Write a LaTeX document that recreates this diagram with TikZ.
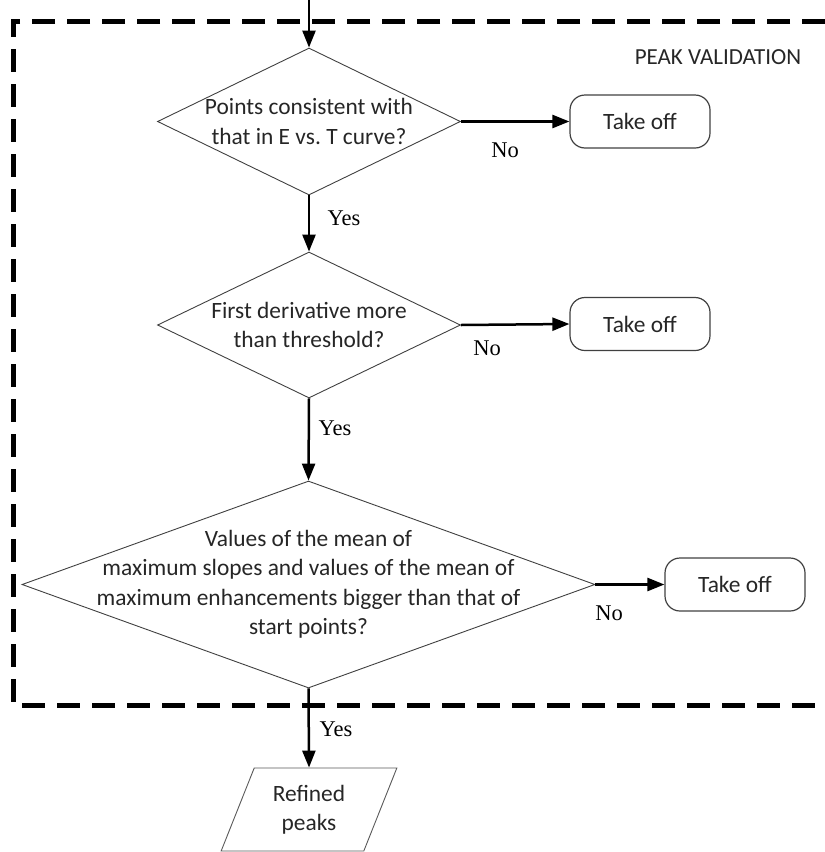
\documentclass[tikz,border=0pt]{standalone}
\usepackage{fontspec}
\setmainfont{Carlito}
\newfontfamily\labelserif{Liberation Serif}
\usetikzlibrary{arrows.meta,shapes.geometric}
\begin{document}
\begin{tikzpicture}[x=1pt,y=-1pt,
  decision/.style={diamond, draw=black!75, line width=0.9pt, inner sep=0pt},
  qtext/.style={align=center, inner sep=0pt, font=\fontsize{23.4}{29.5}\selectfont, text=black!85},
  endbox/.style={rectangle, rounded corners=15pt, draw=black!75, line width=1.2pt,
    minimum width=140pt, minimum height=53pt, inner sep=0pt,
    font=\fontsize{23.4}{27}\selectfont, text=black!85},
  outbox/.style={trapezium, trapezium left angle=66, trapezium right angle=114,
    trapezium stretches=true, draw=black!65, line width=0.9pt, inner sep=0pt,
    align=center, font=\fontsize{23.4}{29}\selectfont, text=black!85},
  flow/.style={-{Triangle[length=17pt,width=13pt]}, line width=2.5pt},
  answer/.style={inner sep=0pt, font=\labelserif\fontsize{22.5}{26}\selectfont},
  frame/.style={line width=5pt, dash pattern=on 23pt off 12pt},
  title/.style={inner sep=0pt, font=\fontsize{23}{27}\selectfont, text=black!85}
]
\useasboundingbox (0,0) rectangle (825,852);

% dashed frame around the validation stage
\draw[frame] (825,21) -- (13,21) -- (13,705) -- (825,705);
\node[title] (stage) at (718,57) {PEAK VALIDATION};

% decisions
\node[decision, minimum width=303pt, minimum height=147pt] (d1) at (309,121.5) {};
\node[qtext] (q1) at (d1.center) {Points consistent with\\that in E vs.\ T curve?};

\node[decision, minimum width=303pt, minimum height=146pt] (d2) at (309,325) {};
\node[qtext] (q2) at (d2.center) {First derivative more\\than threshold?};

\node[decision, minimum width=573pt, minimum height=207pt] (d3) at (308.5,584.5) {};
\node[qtext] (q3) at (d3.center) {Values of the mean of\\maximum slopes and values of the mean of\\maximum enhancements bigger than that of\\start points?};

% rejected candidates
\node[endbox] (k1) at (640,121.5) {Take off};
\node[endbox] (k2) at (640,324) {Take off};
\node[endbox] (k3) at (735,584.5) {Take off};

% output
\node[outbox, minimum width=176pt, minimum height=83pt] (out) at (309,809.5) {Refined\\peaks};

% connectors
\coordinate (in) at (309,0);
\draw[flow] (in) -- (d1.north);
\draw[flow] (d1.south) -- (d2.north);
\draw[flow] (d2.south) -- (d3.north);
\draw[flow] (d3.south) -- (out.north);
\draw[flow] (d1.east) -- (k1.west);
\draw[flow] (d2.east) -- (k2.west);
\draw[flow] (d3.east) -- (k3.west);

% branch labels
\node[answer] (y1) at (344,218) {Yes};
\node[answer] (y2) at (335,428) {Yes};
\node[answer] (y3) at (336,729) {Yes};
\node[answer] (n1) at (505,150) {No};
\node[answer] (n2) at (487,348) {No};
\node[answer] (n3) at (609,613) {No};
\end{tikzpicture}
\end{document}
